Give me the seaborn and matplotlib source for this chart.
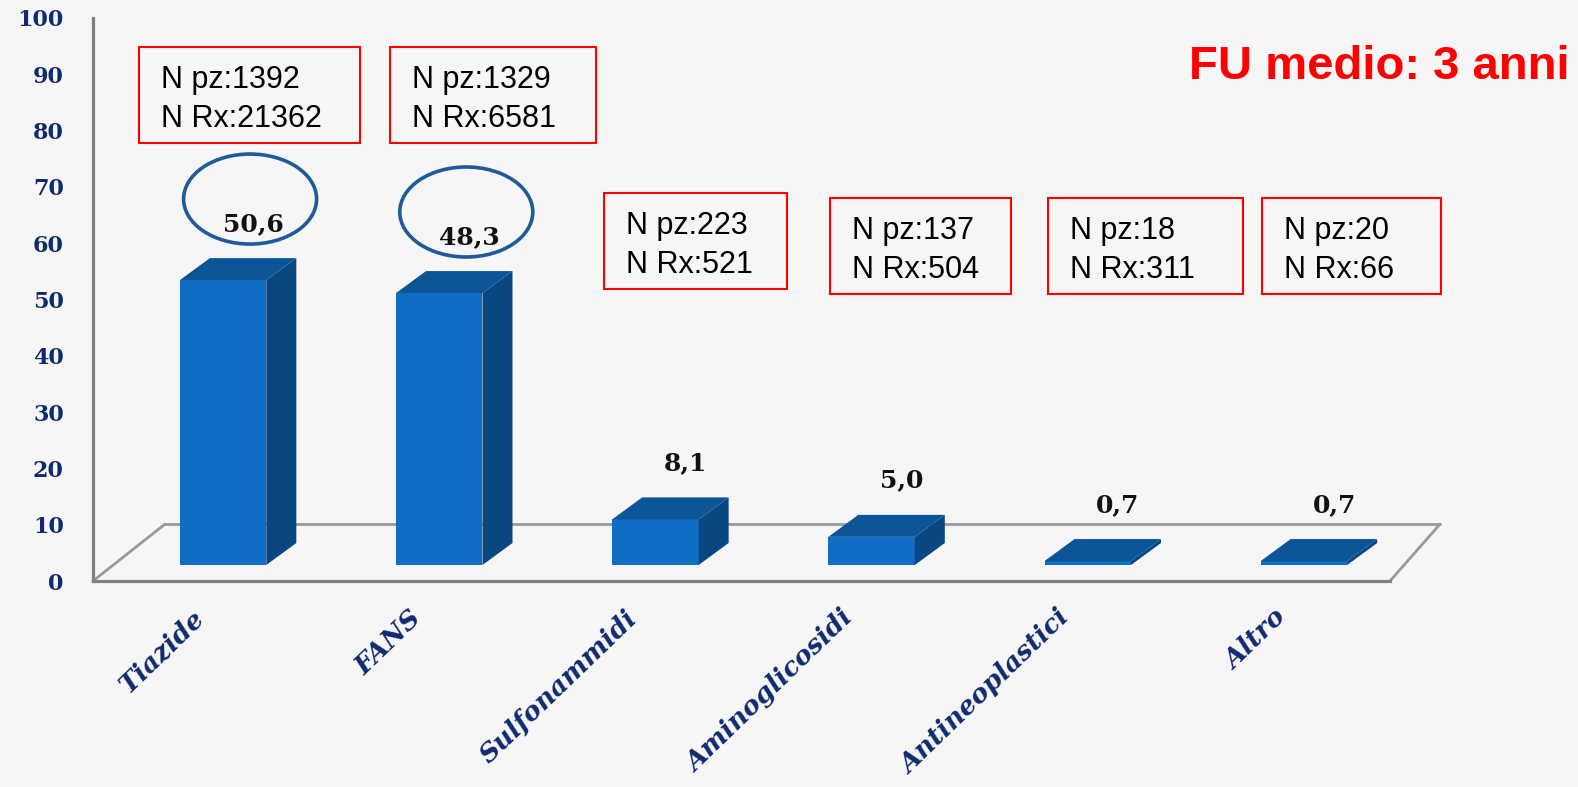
import matplotlib
matplotlib.use("Agg")
import matplotlib.pyplot as plt
import seaborn as sns
import pandas as pd
from matplotlib.patches import Polygon, Ellipse, Rectangle
from matplotlib.lines import Line2D

# ---- data -------------------------------------------------------------
categories = ["Tiazide", "FANS", "Sulfonammidi", "Aminoglicosidi",
              "Antineoplastici", "Altro"]
values = [50.6, 48.3, 8.1, 5.0, 0.7, 0.7]
value_labels = ["50,6", "48,3", "8,1", "5,0", "0,7", "0,7"]
n_pz = [1392, 1329, 223, 137, 18, 20]
n_rx = [21362, 6581, 521, 504, 311, 66]
highlighted = ["Tiazide", "FANS"]
y_ticks = [0, 10, 20, 30, 40, 50, 60, 70, 80, 90, 100]
note = "FU medio: 3 anni"

# ---- style ------------------------------------------------------------
sns.set_style("white")
plt.rcParams["font.family"] = ["DejaVu Serif", "DejaVu Sans"]

W, H, DPI = 1578, 787, 100
BG = "#f6f6f6"
NAVY = "#0f2a6e"
AXIS_GRAY = "#808080"
FRONT = "#0f6dc4"
TOP = "#0b5597"
SIDE = "#0a4680"
BOX_RED = "#ff0000"


def fx(px):
    return px / W


def fy(py):
    return 1 - py / H


fig = plt.figure(figsize=(W / DPI, H / DPI), dpi=DPI)
fig.patch.set_facecolor(BG)

# plot frame geometry (pixels)
x_left, x_right = 93, 1390
y_zero, y_top = 581, 18
unit_x = (x_right - x_left) / 6.0
unit_y = (y_zero - y_top) / 100.0

# ---- main axes: frame, ticks and floor ---------------------------------
ax = fig.add_axes([fx(x_left), fy(y_zero), (x_right - x_left) / W,
                   (y_zero - y_top) / H])
ax.set_facecolor("none")
ax.set_xlim(-0.5, 5.5)
ax.set_ylim(0, 100)
for s in ["top", "right"]:
    ax.spines[s].set_visible(False)
for s in ["left", "bottom"]:
    ax.spines[s].set_color(AXIS_GRAY)
    ax.spines[s].set_linewidth(2.3)

ax.set_yticks(y_ticks)
ax.set_yticklabels([str(t) for t in y_ticks], fontsize=16, fontweight="bold",
                   color=NAVY)
ax.tick_params(axis="y", direction="out", length=7, width=2.3,
               color=AXIS_GRAY, pad=14)

# category boundaries carry the tick marks, centres carry the labels
ax.set_xticks([i - 0.5 for i in range(len(categories) + 1)])
ax.set_xticklabels([])
ax.tick_params(axis="x", which="major", direction="out", length=7,
               width=2.3, color=AXIS_GRAY)
ax.set_xticks(range(len(categories)), minor=True)
ax.set_xticklabels(categories, minor=True, rotation=44, ha="right",
                   va="center", rotation_mode="anchor", fontsize=19,
                   fontweight="bold", fontstyle="italic", color=NAVY)
ax.tick_params(axis="x", which="minor", length=0, pad=24)

# perspective floor
floor_y = 10.1
left_depth = 72 / unit_x
right_depth = 50 / unit_x
floor_kw = dict(color="#9a9a9a", lw=2.0, clip_on=False, zorder=1)
ax.add_line(Line2D([-0.5, -0.5 + left_depth], [0, floor_y], **floor_kw))
ax.add_line(Line2D([-0.5 + left_depth, 5.5 + right_depth],
                   [floor_y, floor_y], **floor_kw))
ax.add_line(Line2D([5.5, 5.5 + right_depth], [0, floor_y], **floor_kw))

# ---- bar axes (shifted back into the floor) ----------------------------
shift_x, shift_y = 22, 16
axb = fig.add_axes([fx(x_left + shift_x), fy(y_zero - shift_y),
                    (x_right - x_left) / W, (y_zero - y_top) / H])
axb.set_facecolor("none")

df = pd.DataFrame({"categoria": categories, "valore": values})
sns.barplot(data=df, x="categoria", y="valore", order=categories,
            color=FRONT, saturation=1, width=0.4, errorbar=None,
            linewidth=0, ax=axb)
axb.set_xlim(-0.5, 5.5)
axb.set_ylim(0, 100)
axb.axis("off")

dx = 30 / unit_x
dy = 22 / unit_y
for bar in axb.patches[:len(categories)]:
    x0, w, h = bar.get_x(), bar.get_width(), bar.get_height()
    top = Polygon([(x0, h), (x0 + w, h), (x0 + w + dx, h + dy),
                   (x0 + dx, h + dy)], closed=True, facecolor=TOP,
                  edgecolor="none", clip_on=False, zorder=3)
    side = Polygon([(x0 + w, 0), (x0 + w + dx, dy), (x0 + w + dx, h + dy),
                    (x0 + w, h)], closed=True, facecolor=SIDE,
                   edgecolor="none", clip_on=False, zorder=3)
    axb.add_patch(side)
    axb.add_patch(top)

# value labels and highlight rings
for i, (cat, v, lab) in enumerate(zip(categories, values, value_labels)):
    axb.text(i + 0.14, v + 10, lab, ha="center", va="center", fontsize=18,
             fontweight="bold", color="#111111", clip_on=False, zorder=5)
    if cat in highlighted:
        axb.add_patch(Ellipse((i + 0.125, v + 14.4), width=133 / unit_x,
                              height=90 / unit_y, fill=False,
                              edgecolor="#1f5b98", lw=2.6, clip_on=False,
                              zorder=6))

# ---- annotation boxes (pixel layout: left, top, right, bottom) ---------
box_layout = [(139, 47, 360, 143), (390, 47, 596, 143),
              (604, 193, 787, 289), (830, 198, 1011, 294),
              (1048, 198, 1243, 294), (1262, 198, 1441, 294)]
for (l, t, r, b), pz, rx in zip(box_layout, n_pz, n_rx):
    fig.patches.append(Rectangle((fx(l), fy(b)), (r - l) / W, (b - t) / H,
                                 transform=fig.transFigure, fill=False,
                                 edgecolor=BOX_RED, lw=1.5))
    fig.text(fx(l + 22), fy(t + 41), f"N pz:{pz}", ha="left",
             va="baseline", fontsize=22, family=["Liberation Sans"],
             color="black")
    fig.text(fx(l + 22), fy(t + 80), f"N Rx:{rx}", ha="left",
             va="baseline", fontsize=22, family=["Liberation Sans"],
             color="black")

fig.text(fx(1189), fy(79), note, ha="left", va="baseline", fontsize=34,
         fontweight="bold", family=["Liberation Sans"], color="#ff0000")

fig.savefig("out.png", dpi=DPI, facecolor=fig.get_facecolor())
